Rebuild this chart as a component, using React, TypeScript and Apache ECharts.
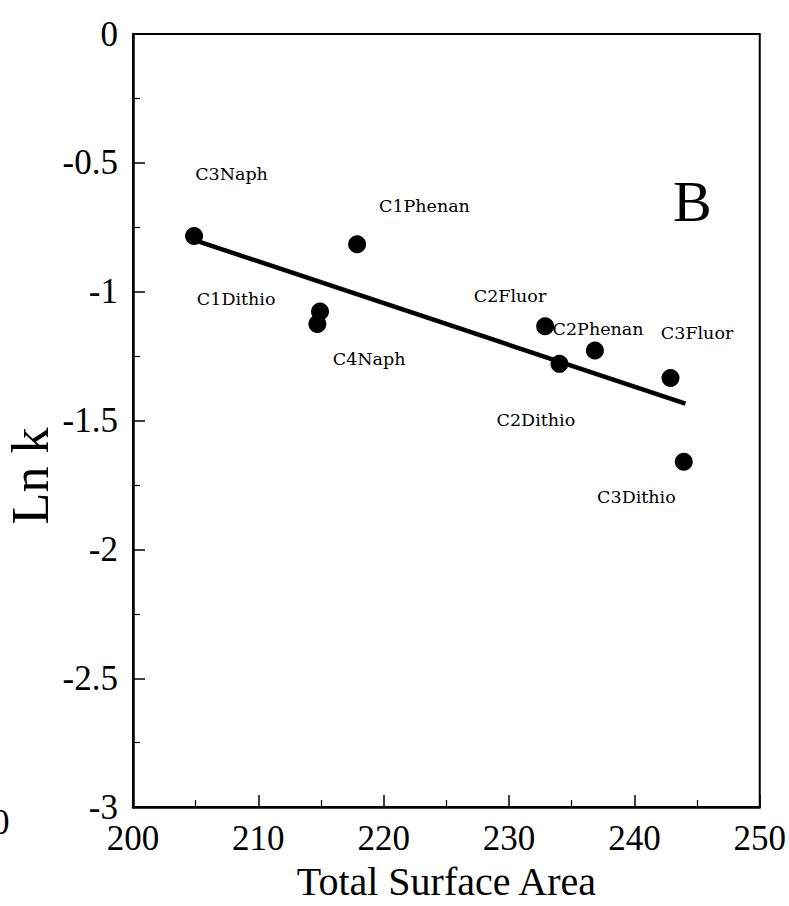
import React, { useEffect, useRef } from "react";
import * as echarts from "echarts";

// Data points: total surface area vs ln k
const compounds = ["C3Naph", "C1Phenan", "C1Dithio", "C4Naph", "C2Fluor", "C2Dithio", "C2Phenan", "C3Fluor", "C3Dithio"];
const surfaceArea = [204.87, 217.88, 214.92, 214.71, 232.88, 234.02, 236.85, 242.88, 243.94];
const lnK = [-0.784, -0.816, -1.077, -1.125, -1.134, -1.28, -1.228, -1.335, -1.66];

// Regression line end points
const fitX = [204.9, 244.07];
const fitY = [-0.8, -1.434];

// Label anchor positions (data coordinates)
const labelNames = ["C3Naph", "C1Phenan", "C1Dithio", "C4Naph", "C2Fluor", "C2Phenan", "C3Fluor", "C2Dithio", "C3Dithio"];
const labelX = [207.86, 223.25, 208.23, 218.84, 230.08, 237.1, 245.0, 232.14, 240.16];
const labelY = [-0.545, -0.667, -1.028, -1.26, -1.017, -1.144, -1.16, -1.496, -1.798];

const panelLetter = "B";
const panelX = 244.63;
const panelY = -0.65;

const xMin = 200, xMax = 250, xInterval = 10;
const yMin = -3, yMax = 0, yInterval = 0.5;

const serif = "'Liberation Serif', 'Times New Roman', serif";
const labelFont = "'DejaVu Serif', serif";

export default function App() {
  const ref = useRef<HTMLDivElement>(null);
  useEffect(() => {
    if (!ref.current) return;
    const chart = echarts.init(ref.current, undefined, { renderer: "svg" });
    const labelData: any[] = labelNames.map((n, i) => ({ name: n, value: [labelX[i], labelY[i]] }));
    labelData.push({
      name: panelLetter,
      value: [panelX, panelY],
      label: { fontSize: 58, fontFamily: serif },
    });
    chart.setOption({
      animation: false,
      backgroundColor: "#fff",
      grid: {
        left: 133,
        right: 26,
        top: 34,
        bottom: 96,
        show: true,
        borderColor: "#000",
        borderWidth: 2,
      },
      xAxis: {
        type: "value",
        min: xMin,
        max: xMax,
        interval: xInterval,
        name: "Total Surface Area",
        nameLocation: "middle",
        nameGap: 50,
        nameTextStyle: { fontFamily: serif, fontSize: 40, color: "#000" },
        axisLine: { show: true, onZero: false, lineStyle: { color: "#000", width: 2.5 } },
        axisTick: { show: true, inside: true, length: 12, lineStyle: { color: "#000", width: 1.5 } },
        minorTick: { show: true, splitNumber: 2, length: 7, lineStyle: { color: "#000", width: 1.2 } },
        axisLabel: { fontFamily: serif, fontSize: 35, color: "#000", margin: 14 },
        splitLine: { show: false },
      },
      yAxis: {
        type: "value",
        min: yMin,
        max: yMax,
        interval: yInterval,
        axisLine: { show: true, onZero: false, lineStyle: { color: "#000", width: 2.5 } },
        axisTick: { show: true, inside: true, length: 12, lineStyle: { color: "#000", width: 1.5 } },
        minorTick: { show: true, splitNumber: 2, length: 7, lineStyle: { color: "#000", width: 1.2 } },
        axisLabel: { fontFamily: serif, fontSize: 35, color: "#000", margin: 15 },
        splitLine: { show: false },
      },
      graphic: [
        {
          type: "text",
          x: 30,
          y: 476,
          rotation: Math.PI / 2,
          style: {
            text: "Ln k",
            font: "52px 'Liberation Serif', serif",
            fill: "#000",
            align: "center",
            verticalAlign: "middle",
          },
        },
        {
          type: "text",
          x: -8,
          y: 822,
          style: {
            text: "0",
            font: "35px 'Liberation Serif', serif",
            fill: "#000",
            align: "left",
            verticalAlign: "middle",
          },
        },
      ],
      series: [
        {
          type: "line",
          data: fitX.map((x, i) => [x, fitY[i]]),
          showSymbol: false,
          symbol: "none",
          lineStyle: { color: "#000", width: 4.5 },
          z: 2,
        },
        {
          type: "scatter",
          data: surfaceArea.map((x, i) => ({ name: compounds[i], value: [x, lnK[i]] })),
          symbol: "circle",
          symbolSize: 18,
          itemStyle: { color: "#000", opacity: 1 },
          z: 3,
        },
        {
          type: "scatter",
          data: labelData,
          symbolSize: 0,
          itemStyle: { color: "rgba(0,0,0,0)", opacity: 1 },
          label: {
            show: true,
            position: "inside",
            formatter: "{b}",
            fontFamily: labelFont,
            fontSize: 17.5,
            color: "#000",
          },
          z: 4,
        },
      ],
    });
    return () => chart.dispose();
  }, []);
  return (
    <div
      ref={ref}
      style={{ position: "fixed", left: 0, top: 0, width: 789, height: 906, background: "#fff" }}
    />
  );
}
